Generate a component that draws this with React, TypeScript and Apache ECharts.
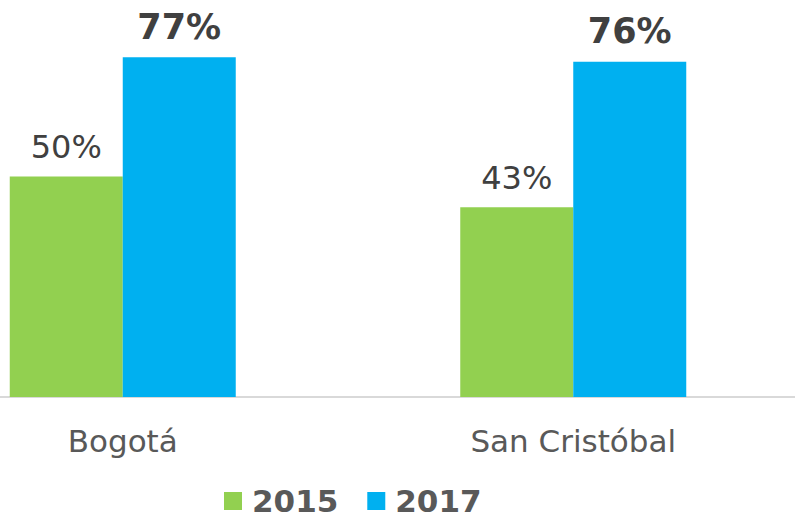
import React, { useEffect, useRef } from "react";
import * as echarts from "echarts";

const categories = ["Bogotá", "San Cristóbal"];
const seriesNames = ["2015", "2017"];
const values2015 = [50, 43];
const values2017 = [77, 76];

export default function App() {
  const ref = useRef<HTMLDivElement>(null);
  useEffect(() => {
    if (!ref.current) return;
    const chart = echarts.init(ref.current, null, { renderer: "svg" });
    const font = "'DejaVu Sans', Verdana, sans-serif";
    chart.setOption({
      animation: false,
      backgroundColor: "#ffffff",
      textStyle: { fontFamily: font },
      grid: { left: -102.5, right: -3.5, top: 0, bottom: 118, outerBoundsMode: "none", containLabel: false },
      legend: {
        left: 224,
        top: 485,
        padding: 0,
        itemWidth: 18,
        itemHeight: 18,
        itemGap: 29,
        icon: "rect",
        data: seriesNames,
        textStyle: {
          fontFamily: font,
          fontSize: 31,
          fontWeight: "bold",
          color: "#595959",
          lineHeight: 32,
          padding: [0, 0, 0, 5],
        },
      },
      xAxis: {
        type: "category",
        data: categories,
        axisTick: { show: false },
        axisLine: { lineStyle: { color: "#d9d9d9", width: 2 } },
        axisLabel: { fontFamily: font, fontSize: 31, color: "#595959", margin: 28 },
      },
      yAxis: {
        type: "value",
        min: 0,
        max: 90,
        show: false,
        splitLine: { show: false },
      },
      series: [
        {
          name: seriesNames[0],
          type: "bar",
          data: values2015,
          barWidth: 113,
          barGap: "0%",
          itemStyle: { color: "#92D050" },
          label: {
            show: true,
            position: "top",
            distance: 13,
            formatter: "{c}%",
            fontFamily: font,
            fontSize: 32,
            color: "#404040",
          },
        },
        {
          name: seriesNames[1],
          type: "bar",
          data: values2017,
          barWidth: 113,
          barGap: "0%",
          itemStyle: { color: "#00B0F0" },
          label: {
            show: true,
            position: "top",
            distance: 13,
            formatter: "{c}%",
            fontFamily: font,
            fontSize: 35,
            fontWeight: "bold",
            color: "#404040",
          },
        },
      ],
    });
    return () => chart.dispose();
  }, []);
  return <div ref={ref} style={{ width: 795, height: 515, position: "absolute", left: 0, top: 0 }} />;
}
